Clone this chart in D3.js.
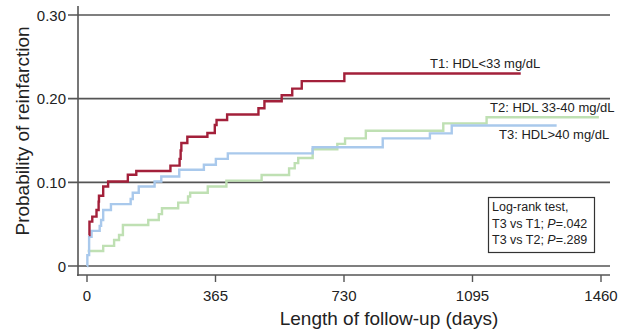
<!DOCTYPE html>
<meta charset="utf-8">
<script src="https://d3js.org/d3.v7.min.js"></script>
<style>
  body { margin: 0; background: #fff; }
  text { font-family: "Liberation Sans", Arial, sans-serif; fill: #222; }
</style>
<div id="chart"></div>
<script>
// ticks
var xTicks = [0, 365, 730, 1095, 1460];
var yTicks = [0, 0.10, 0.20, 0.30];
var yTickLabels = ["0", "0.10", "0.20", "0.30"];

// T1: HDL<33 mg/dL  [day, cumulative probability]
var t1 = [[5,0.037],[7,0.053],[15,0.059],[27,0.067],[33,0.077],[34,0.084],[46,0.095],
  [60,0.101],[116,0.109],[140,0.1135],[237,0.12],[263,0.128],[266,0.138],[268,0.147],
  [285,0.1545],[342,0.159],[363,0.1685],[368,0.1745],[398,0.181],[487,0.1885],[504,0.197],
  [553,0.204],[583,0.212],[610,0.221],[731,0.23],[1232,0.23]];

// T2: HDL 33-40 mg/dL
var t2 = [[2,0.018],[46,0.024],[77,0.031],[91,0.037],[102,0.049],[174,0.055],[204,0.062],
  [213,0.069],[259,0.0757],[287,0.083],[293,0.0876],[343,0.095],[396,0.102],[496,0.1087],
  [574,0.1167],[590,0.123],[600,0.129],[641,0.1395],[711,0.146],[733,0.1525],[792,0.1617],
  [1012,0.1705],[1135,0.1777],[1454,0.1777]];

// T3: HDL>40 mg/dL
var t3 = [[0,0],[1,0.013],[6,0.035],[13,0.042],[36,0.048],[40,0.055],[46,0.067],[68,0.074],
  [124,0.08],[130,0.0876],[147,0.095],[192,0.101],[211,0.107],[262,0.115],[332,0.121],
  [366,0.128],[400,0.1346],[641,0.142],[840,0.1525],[974,0.1585],[1036,0.168],[1334,0.168]];

var seriesNames = ["T1: HDL<33 mg/dL", "T2: HDL 33-40 mg/dL", "T3: HDL>40 mg/dL"];
var boxLines = ["Log-rank test,", "T3 vs T1; |P|=.042", "T3 vs T2; |P|=.289"];

var width = 626, height = 331;
var svg = d3.select("#chart").append("svg")
  .attr("width", width).attr("height", height);

var x = d3.scaleLinear().domain([0, 1460]).range([87, 601]);
var y = d3.scaleLinear().domain([0, 0.3]).range([266, 15]);

var axisColor = "#555";

// gridlines (with left ticks)
svg.selectAll(".grid").data(yTicks).enter().append("line")
  .attr("x1", 68).attr("x2", 610)
  .attr("y1", d => y(d)).attr("y2", d => y(d))
  .attr("stroke", axisColor).attr("stroke-width", 1.6);

// y axis line
svg.append("line").attr("x1", 78).attr("x2", 78).attr("y1", 6).attr("y2", 276)
  .attr("stroke", axisColor).attr("stroke-width", 1.6);
// x axis line
svg.append("line").attr("x1", 77).attr("x2", 610).attr("y1", 275).attr("y2", 275)
  .attr("stroke", axisColor).attr("stroke-width", 1.6);

// x ticks
svg.selectAll(".xt").data(xTicks).enter().append("line")
  .attr("x1", d => x(d)).attr("x2", d => x(d))
  .attr("y1", 275).attr("y2", 282)
  .attr("stroke", axisColor).attr("stroke-width", 1.4);
svg.selectAll(".xl").data(xTicks).enter().append("text")
  .attr("x", d => x(d)).attr("y", 301)
  .attr("text-anchor", "middle").attr("font-size", 15)
  .text(d => d);

// y tick labels
svg.selectAll(".yl").data(yTicks).enter().append("text")
  .attr("x", 66).attr("y", d => y(d) + 5.5)
  .attr("text-anchor", "end").attr("font-size", 15)
  .text((d, i) => yTickLabels[i]);

// axis titles
svg.append("text").attr("x", 389).attr("y", 325)
  .attr("text-anchor", "middle").attr("font-size", 19)
  .text("Length of follow-up (days)");
svg.append("text")
  .attr("transform", "translate(29,131) rotate(-90)")
  .attr("text-anchor", "middle").attr("font-size", 19)
  .text("Probability of reinfarction");

// curves
var line = d3.line().x(d => x(d[0])).y(d => y(d[1])).curve(d3.curveStepAfter);
var curves = [
  {data: t2, color: "#bfe0b3"},
  {data: t3, color: "#a9c9ec"},
  {data: t1, color: "#a3203a"}
];
svg.selectAll(".curve").data(curves).enter().append("path")
  .attr("d", d => line(d.data))
  .attr("fill", "none")
  .attr("stroke", d => d.color)
  .attr("stroke-width", 2.4);

// series labels
var labelPos = [[430, 68], [490, 112], [499, 139]];
svg.selectAll(".sl").data(seriesNames).enter().append("text")
  .attr("x", (d, i) => labelPos[i][0]).attr("y", (d, i) => labelPos[i][1])
  .attr("font-size", 13)
  .text(d => d);

// log-rank box
svg.append("rect").attr("x", 488.5).attr("y", 197.5).attr("width", 106).attr("height", 55)
  .attr("fill", "#fff").attr("stroke", "#333").attr("stroke-width", 1.2);
var bt = svg.selectAll(".bt").data(boxLines).enter().append("text")
  .attr("x", 492).attr("y", (d, i) => 211 + i * 16.5)
  .attr("font-size", 12.5);
bt.each(function(d) {
  var parts = d.split("|");
  var t = d3.select(this);
  parts.forEach(function(p, k) {
    t.append("tspan").attr("font-style", k === 1 ? "italic" : "normal").text(p);
  });
});
</script>
